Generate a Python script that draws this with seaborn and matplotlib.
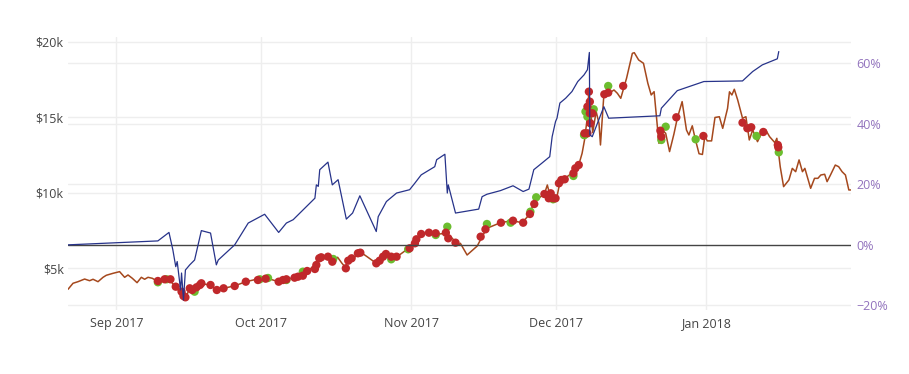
import pandas as pd
import matplotlib
matplotlib.use("Agg")
import matplotlib.pyplot as plt
import matplotlib.dates as mdates
from matplotlib.transforms import blended_transform_factory
import seaborn as sns

# -------------------------
# Data (days counted from 1 Sep 2017)
# -------------------------
BASE_DATE = pd.Timestamp("2017-09-01")

price_day = [
    -10.0, -8.96, -7.93, -6.56, -5.53, -4.82, -3.79, -2.75, -2.07, -0.68,
    0.68, 1.72, 2.42, 3.31, 4.29, 5.18, 5.86, 6.56, 7.45, 8.63,
    10.0, 11.04, 12.07, 13.1, 13.6, 14.0, 14.2, 14.6, 15.2, 15.7,
    16.2, 16.6, 17.3, 17.6, 18.5, 19.5, 20.8, 22.2, 24.5, 26.8,
    29.0, 30.9, 31.2, 33.6, 35.3, 36.7, 38.1, 39.8, 41.2, 42.1,
    43.6, 44.7, 45.8, 46.7, 47.5, 47.8, 49.1, 50.4, 51.9, 53.8,
    55.7, 57.1, 58.1, 60.2, 61.9, 63.3, 64.7, 66.4, 68.1, 69.5,
    70.9, 71.2, 72.6, 74.7, 75.7, 76.7, 79.5, 81.9, 84.0, 85.4,
    86.4, 87.8, 88.6, 89.2, 89.9, 91.2, 91.9, 93.3, 94.7, 95.7,
    96.4, 96.9, 97.4, 97.8, 98.2, 98.6, 99.3, 99.9, 100.2, 100.9,
    101.9, 103.0, 103.7, 104.4, 104.9, 105.6, 106.8, 107.2, 108.1, 109.1,
    110.0, 110.7, 111.3, 112.3, 113.0, 113.7, 114.5, 115.4, 116.1, 117.1,
    118.0, 118.5, 119.2, 119.8, 120.6, 121.3, 121.8, 122.3, 123.2, 123.9,
    124.8, 125.5, 126.5, 126.9, 127.4, 127.9, 128.6, 129.6, 130.3, 131.0,
    131.7, 132.7, 133.7, 134.4, 135.2, 136.3, 136.7, 137.4, 138.1, 139.2,
    139.9, 140.6, 141.3, 142.0, 142.5, 143.0, 143.7, 144.5, 145.2, 145.8,
    146.6, 147.1, 147.8, 148.8, 149.5, 150.2, 150.9, 151.6, 152.0,
]
price_usd = [
    3620, 4020, 4125, 4300, 4190, 4285, 4125, 4415, 4550, 4680,
    4790, 4415, 4570, 4350, 4060, 4415, 4285, 4415, 4350, 4125,
    4285, 4240, 3840, 3460, 3300, 3100, 2950, 3250, 3690, 3575,
    3470, 3750, 3900, 4020, 3950, 3906, 3575, 3687, 3850, 4125,
    4284, 4324, 4350, 4125, 4350, 4350, 4570, 4900, 5231, 5741,
    5741, 5450, 5741, 5343, 5050, 5562, 5674, 6112, 5781, 5343,
    5893, 5674, 5781, 6271, 6887, 7264, 7370, 7264, 7330, 7000,
    6556, 6669, 5893, 6490, 7106, 7661, 8032, 8165, 8032, 8542,
    9317, 9754, 9933, 10530, 9648, 9754, 10860, 11080, 11410, 11854,
    12630, 13510, 14800, 16700, 15300, 14000, 15400, 14600, 13180, 16490,
    16600, 16820, 16600, 16270, 16820, 17600, 19250, 19290, 18810, 18590,
    17270, 16490, 16710, 13290, 14170, 13950, 12740, 13900, 14950, 16050,
    14170, 13840, 14450, 13600, 12600, 12550, 13770, 13450, 13450, 15000,
    15050, 14280, 15600, 16700, 16490, 16870, 16160, 14950, 15050, 13510,
    14170, 13400, 14060, 14170, 13730, 13330, 13620, 11740, 10420, 10860,
    11630, 11410, 12190, 11410, 11630, 11080, 10310, 10970, 10970, 11190,
    11240, 10750, 11190, 11850, 11740, 11410, 11190, 10200, 10200,
]

return_day = [
    -10.0, 8.6, 10.9, 11.7, 12.3, 12.6, 13.3, 13.5, 13.9, 14.3,
    15.2, 16.2, 17.6, 19.5, 20.7, 21.1, 24.5, 27.3, 30.7, 33.6,
    35.2, 36.6, 41.1, 41.4, 41.8, 42.1, 43.8, 44.7, 45.9, 47.6,
    48.9, 50.4, 53.8, 54.2, 55.9, 58.0, 60.7, 61.8, 63.1, 65.9,
    66.3, 68.0, 68.5, 68.7, 70.2, 75.0, 75.7, 76.7, 79.5, 82.1,
    84.2, 85.4, 86.4, 88.1, 89.7, 90.2, 90.9, 91.2, 91.8, 93.0,
    94.3, 95.5, 96.8, 97.5, 97.9, 98.0, 98.5, 100.9, 101.9, 112.5,
    112.8, 116.1, 121.6, 129.6, 131.7, 133.7, 136.8, 137.1,
]
return_pct = [
    0.0, 1.3, 4.1, -1.65, -7.2, -5.5, -14.9, -9.3, -18.2, -8.3,
    -6.6, -5.0, 4.7, 3.9, -6.6, -5.0, 0.0, 7.2, 10.1, 4.1,
    7.2, 8.3, 15.4, 19.8, 19.3, 24.8, 27.3, 19.8, 21.5, 8.5,
    10.5, 16.2, 4.4, 9.3, 14.3, 17.1, 18.2, 20.4, 23.1, 25.8,
    28.1, 29.9, 17.1, 19.8, 10.5, 11.8, 15.9, 16.7, 17.9, 19.5,
    17.6, 18.4, 24.8, 27.0, 29.1, 35.7, 40.7, 41.8, 46.8, 48.4,
    50.6, 53.9, 56.1, 57.8, 63.5, 36.3, 35.7, 45.6, 41.8, 42.6,
    45.1, 50.9, 53.9, 54.1, 57.2, 59.4, 61.4, 63.8,
]

buy_day = [
    8.6, 10.4, 16.2, 29.7, 31.4, 35.2, 38.6, 44.9, 56.9, 60.4,
    66.1, 68.5, 76.7, 81.6, 85.7, 86.9, 90.4, 94.6, 96.8, 96.9,
    97.1, 97.5, 98.8, 101.8, 112.8, 113.7, 119.9, 132.5, 137.1,
]
buy_price = [
    4085, 4284, 3463, 4284, 4370, 4237, 4787, 5628, 5608, 6271,
    7218, 7767, 7946, 8032, 8761, 9715, 9582, 11126, 13840, 13840,
    15390, 15053, 15543, 17086, 13510, 14390, 13556, 13775, 12695,
]

sell_day = [
    8.6, 10.0, 11.2, 12.3, 13.5, 13.9, 14.3, 15.2, 15.7, 16.6,
    17.3, 17.6, 19.5, 20.8, 22.2, 24.5, 26.8, 29.3, 30.9, 33.6,
    34.5, 35.2, 36.9, 37.6, 38.6, 39.5, 41.1, 41.4, 42.0, 42.4,
    43.8, 44.7, 47.5, 48.0, 48.7, 50.0, 50.5, 53.8, 54.5, 55.2,
    55.8, 56.9, 58.0, 60.7, 61.8, 62.1, 63.1, 64.7, 66.1, 68.2,
    68.7, 70.2, 75.4, 76.4, 79.6, 82.1, 84.2, 85.6, 86.5, 88.6,
    89.5, 89.9, 90.4, 90.9, 91.6, 92.1, 92.8, 94.6, 95.0, 95.7,
    96.9, 97.5, 97.8, 98.0, 97.5, 98.0, 98.5, 98.1, 101.0, 101.8,
    104.9, 112.6, 112.8, 115.9, 121.5, 129.6, 130.6, 131.4, 133.9, 136.9,
    137.0,
]
sell_price = [
    4171, 4284, 4284, 3794, 3463, 3178, 3091, 3687, 3575, 3754,
    3906, 4019, 3906, 3575, 3687, 3840, 4125, 4237, 4324, 4125,
    4237, 4284, 4390, 4456, 4523, 4833, 4966, 5231, 5674, 5741,
    5781, 5450, 5012, 5516, 5674, 6006, 6046, 5343, 5516, 5781,
    5960, 5781, 5781, 6337, 6668, 6933, 7284, 7370, 7330, 7370,
    7000, 6708, 7106, 7595, 8032, 8165, 8032, 8609, 9271, 9933,
    9650, 9979, 9650, 9648, 10642, 10860, 10907, 11304, 11635, 11854,
    13953, 13953, 16709, 16046, 15715, 15278, 15278, 14616, 16536, 16642,
    17086, 14125, 13728, 15013, 13775, 14656, 14285, 14351, 14040, 13179,
    13026,
]

month_ticks = ["2017-09-01", "2017-10-01", "2017-11-01", "2017-12-01", "2018-01-01"]
price_ticks = [5000, 10000, 15000, 20000]
price_labels = ["$5k", "$10k", "$15k", "$20k"]
pct_ticks = [-20, 0, 20, 40, 60]
pct_labels = ["\u221220%", "0%", "20%", "40%", "60%"]


def to_dates(days):
    return BASE_DATE + pd.to_timedelta(days, unit="D")


price_df = pd.DataFrame({"date": to_dates(price_day), "price": price_usd})
ret_df = pd.DataFrame({"date": to_dates(return_day), "ret": return_pct})
buy_df = pd.DataFrame({"date": to_dates(buy_day), "price": buy_price})
sell_df = pd.DataFrame({"date": to_dates(sell_day), "price": sell_price})

# -------------------------
# Style
# -------------------------
sns.set_theme(style="white")
plt.rcParams["font.family"] = ["Open Sans", "DejaVu Sans"]

GRID = "#eeeeee"
TXT = "#444444"
PURPLE = "#9273bd"

fig = plt.figure(figsize=(9.09, 3.74), dpi=100)
ax = fig.add_axes([68 / 909, 1 - 310 / 374, (851 - 68) / 909, (310 - 37) / 374])
ax2 = ax.twinx()

# -------------------------
# Price + trade markers
# -------------------------
sns.lineplot(data=price_df, x="date", y="price", ax=ax, color="#a5481d",
             linewidth=1.1, estimator=None, sort=False, zorder=3)
sns.scatterplot(data=buy_df, x="date", y="price", ax=ax, color="#6cbd2f",
                s=36, edgecolor="none", zorder=4)
sns.scatterplot(data=sell_df, x="date", y="price", ax=ax, color="#c0282b",
                s=36, edgecolor="none", zorder=5)

# -------------------------
# Strategy return (secondary axis)
# -------------------------
sns.lineplot(data=ret_df, x="date", y="ret", ax=ax2, color="#27338a",
             linewidth=0.9, estimator=None, sort=False, zorder=3)
ax2.axhline(0, color=TXT, linewidth=1, zorder=2)

# limits
ax.set_xlim(to_dates([-10.0])[0], to_dates([152.05])[0])
ax.set_ylim(2250, 20330)
ax2.set_ylim(-21.5, 68.6)

# grids drawn on the lower axes so they stay behind the data
ax.grid(False)
ax2.grid(False)
for m in month_ticks:
    ax.axvline(pd.Timestamp(m), color=GRID, linewidth=1, zorder=0)
for v in price_ticks:
    ax.axhline(v, color=GRID, linewidth=1, zorder=0)
trans = blended_transform_factory(ax.transAxes, ax2.transData)
for p in pct_ticks:
    if p != 0:
        ax.plot([0, 1], [p, p], transform=trans, color=GRID, linewidth=1, zorder=0)

# ticks
ax.set_xticks(pd.to_datetime(month_ticks))
ax.xaxis.set_major_formatter(mdates.DateFormatter("%b %Y"))
ax.set_yticks(price_ticks)
ax.set_yticklabels(price_labels)
ax2.set_yticks(pct_ticks)
ax2.set_yticklabels(pct_labels)

ax.tick_params(axis="x", length=0, pad=5, labelsize=9, colors=TXT)
ax.tick_params(axis="y", length=0, pad=3, labelsize=9, colors=TXT)
ax2.tick_params(axis="y", length=0, pad=4, labelsize=9, colors=PURPLE)

for a in (ax, ax2):
    a.set_xlabel("")
    a.set_ylabel("")
    for s in a.spines.values():
        s.set_visible(False)
ax2.patch.set_visible(False)

fig.savefig("out.png", dpi=100)
